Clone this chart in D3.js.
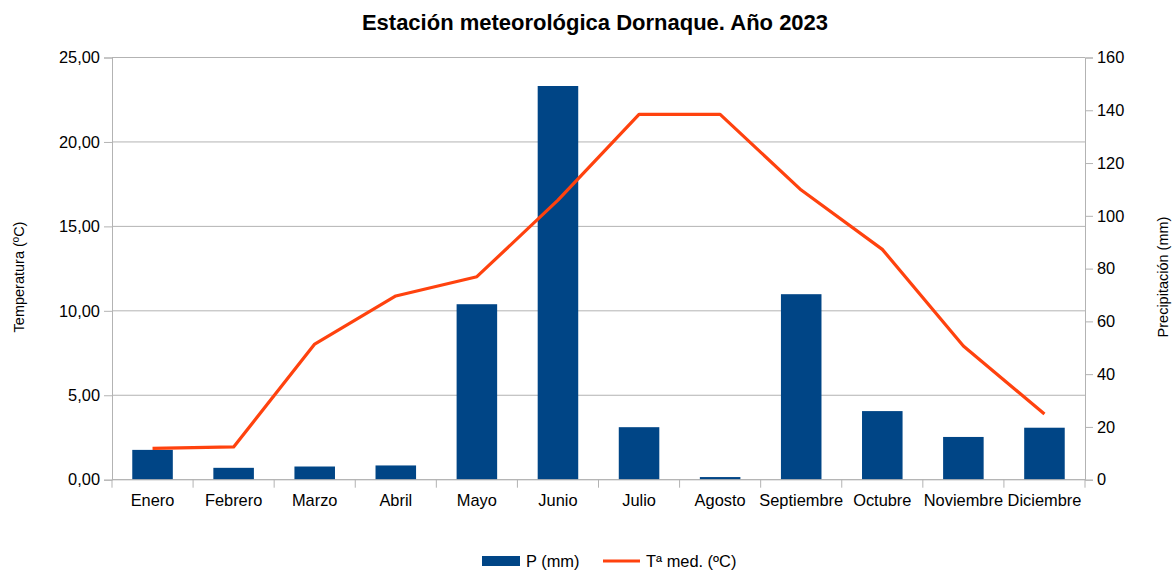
<!DOCTYPE html>
<html><head><meta charset="utf-8">
<script src="https://cdn.jsdelivr.net/npm/d3@7"></script>
<style>
body{margin:0;background:#fff;}
text{font-family:"Liberation Sans",Arial,sans-serif;}
</style></head><body>
<svg id="c" width="1173" height="570"></svg>
<script>
const months = ["Enero","Febrero","Marzo","Abril","Mayo","Junio","Julio","Agosto","Septiembre","Octubre","Noviembre","Diciembre"];
const precip = [11.3, 4.5, 5.0, 5.4, 66.5, 149.2, 19.9, 1.0, 70.3, 26.0, 16.2, 19.7];
const temp = [1.86, 1.94, 8.03, 10.88, 12.02, 16.55, 21.63, 21.63, 17.15, 13.64, 7.92, 3.89];
const tempTicks = [0,5,10,15,20,25];
const precTicks = [0,20,40,60,80,100,120,140,160];
const title = "Estación meteorológica Dornaque. Año 2023";
const leftTitle = "Temperatura (ºC)";
const rightTitle = "Precipitación (mm)";
const legendLabels = ["P (mm)", "Tª med. (ºC)"];

const barColor = "#004586", lineColor = "#ff420e", gridColor = "#b3b3b3", textColor = "#000";
const svg = d3.select("#c");
const L = 112, R = 1085, T = 57.5, B = 479.7;
const FS = 16.4;

const x = d3.scaleBand().domain(months).range([L, R]).paddingInner(0).paddingOuter(0);
const yT = d3.scaleLinear().domain([0,25]).range([B, T]);
const yP = d3.scaleLinear().domain([0,160]).range([B, T]);

// gridlines
svg.append("g").selectAll("line").data(tempTicks).join("line")
  .attr("x1", L).attr("x2", R).attr("y1", d=>yT(d)).attr("y2", d=>yT(d))
  .attr("stroke", gridColor).attr("stroke-width", 1);

// bars
const bw = x.bandwidth()*0.5;
svg.append("g").selectAll("rect").data(precip).join("rect")
  .attr("x", (d,i)=>x(months[i]) + (x.bandwidth()-bw)/2)
  .attr("width", bw)
  .attr("y", d=>yP(d)).attr("height", d=>yP(0)-yP(d))
  .attr("fill", barColor);

// axes
const fmt = d => d3.format(".2f")(d).replace(".", ",");
const gl = svg.append("g").attr("transform", `translate(${L},0)`)
  .call(d3.axisLeft(yT).tickValues(tempTicks).tickFormat(fmt).tickSize(8).tickPadding(4));
const gr = svg.append("g").attr("transform", `translate(${R},0)`)
  .call(d3.axisRight(yP).tickValues(precTicks).tickFormat(d3.format("d")).tickSize(8).tickPadding(4));
const gb = svg.append("g").attr("transform", `translate(0,${B})`)
  .call(d3.axisBottom(x).tickSize(0).tickPadding(15));
// category tick marks at band boundaries
svg.append("g").selectAll("line").data(months.concat(["_end"])).join("line")
  .attr("x1", (d,i)=> i<months.length ? x(d) : R)
  .attr("x2", (d,i)=> i<months.length ? x(d) : R)
  .attr("y1", B).attr("y2", B+8).attr("stroke", gridColor);
[gl,gr,gb].forEach(g=>{
  g.selectAll(".domain").attr("stroke", gridColor);
  g.selectAll(".tick line").attr("stroke", gridColor);
  g.selectAll("text").attr("font-size", FS).attr("fill", textColor)
   .style("font-family", '"Liberation Sans", Arial, sans-serif');
});
gb.selectAll(".domain").attr("d", `M${L},0H${R}`);

// line
const line = d3.line().x((d,i)=>x(months[i])+x.bandwidth()/2).y(d=>yT(d));
svg.append("path").datum(temp).attr("d", line)
  .attr("fill","none").attr("stroke", lineColor).attr("stroke-width", 3.2).attr("stroke-linejoin","round");

// title
svg.append("text").attr("x", 595).attr("y", 30).attr("text-anchor","middle")
  .attr("font-size", 22).attr("font-weight","bold").attr("fill","#000").text(title);
// axis titles
svg.append("text").attr("transform", "translate(24,277) rotate(-90)").attr("text-anchor","middle")
  .attr("font-size", 14.5).attr("fill","#000").text(leftTitle);
svg.append("text").attr("transform", "translate(1168,277) rotate(-90)").attr("text-anchor","middle")
  .attr("font-size", 14.5).attr("fill","#000").text(rightTitle);

// legend
const lg = svg.append("g");
lg.append("rect").attr("x", 482).attr("y", 556).attr("width", 38).attr("height", 10).attr("fill", barColor);
lg.append("text").attr("x", 526).attr("y", 567).attr("font-size", FS).attr("fill","#000").text(legendLabels[0]);
lg.append("line").attr("x1", 603).attr("x2", 640).attr("y1", 561).attr("y2", 561).attr("stroke", lineColor).attr("stroke-width", 3.2);
lg.append("text").attr("x", 646).attr("y", 567).attr("font-size", FS).attr("fill","#000").text(legendLabels[1]);
</script>
</body></html>
